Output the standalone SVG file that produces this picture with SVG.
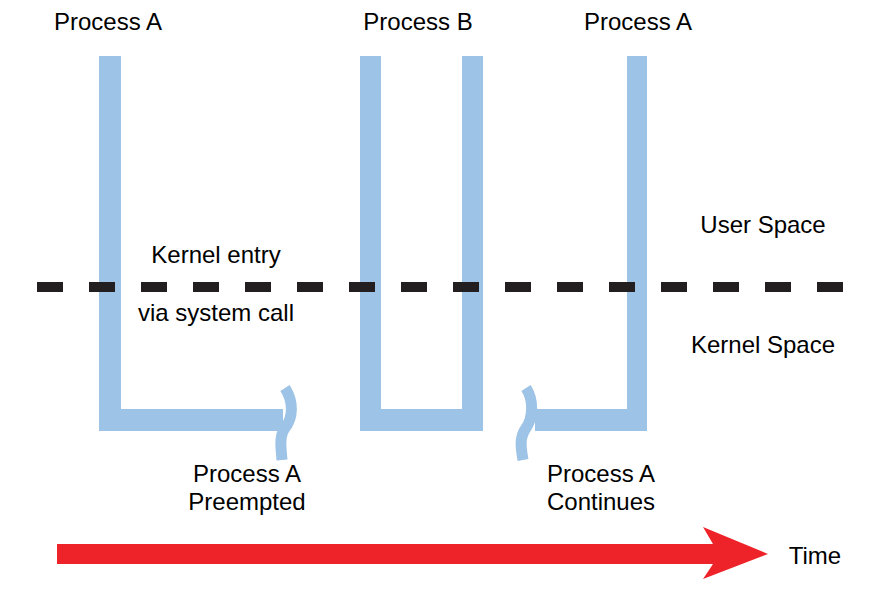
<svg xmlns="http://www.w3.org/2000/svg" width="869" height="594" viewBox="0 0 869 594">
  <style>
    .lbl { font-family: "Liberation Sans", Arial, sans-serif; font-size: 24px; fill: #000; }
    .bar { fill: #9DC3E6; }
    .sq { fill: none; stroke: #9DC3E6; stroke-width: 11; }
  </style>
  <rect width="869" height="594" fill="#fff"/>
  <g id="processA1">
    <polygon class="bar" points="99,56 121,56 121,409 283,409 283,431 99,431"/>
    <path class="sq" d="M285,388 C294,402 293,418 285,428 C279,436 281,448 282,460"/>
    <text class="lbl" x="108" y="30" text-anchor="middle">Process A</text>
  </g>
  <g id="processB">
    <polygon class="bar" points="360,56 381,56 381,409 462,409 462,56 483,56 483,431 360,431"/>
    <text class="lbl" x="418" y="30" text-anchor="middle">Process B</text>
  </g>
  <g id="processA2">
    <polygon class="bar" points="627,56 647,56 647,431 535,431 535,409 627,409"/>
    <path class="sq" d="M526,388 C534,400 533,418 526,428 C519,438 521,448 523,460"/>
    <text class="lbl" x="638" y="30" text-anchor="middle">Process A</text>
  </g>
  <g id="boundary">
    <line x1="37" y1="287" x2="843" y2="287" stroke="#231F20" stroke-width="10" stroke-dasharray="26 26"/>
    <text class="lbl" x="763" y="233" text-anchor="middle">User Space</text>
    <text class="lbl" x="763" y="353" text-anchor="middle">Kernel Space</text>
  </g>
  <g id="labels">
    <text class="lbl" x="216" y="263" text-anchor="middle">Kernel entry</text>
    <text class="lbl" x="216" y="321" text-anchor="middle">via system call</text>
    <text class="lbl" x="247" y="482" text-anchor="middle">Process A</text>
    <text class="lbl" x="247" y="510" text-anchor="middle">Preempted</text>
    <text class="lbl" x="601" y="482" text-anchor="middle">Process A</text>
    <text class="lbl" x="601" y="510" text-anchor="middle">Continues</text>
  </g>
  <g id="connectors">
    <polygon fill="#EE2229" points="57,544 713,544 703,527 768,554 703,579 713,564 57,564"/>
    <text class="lbl" x="815" y="564" text-anchor="middle">Time</text>
  </g>
</svg>
